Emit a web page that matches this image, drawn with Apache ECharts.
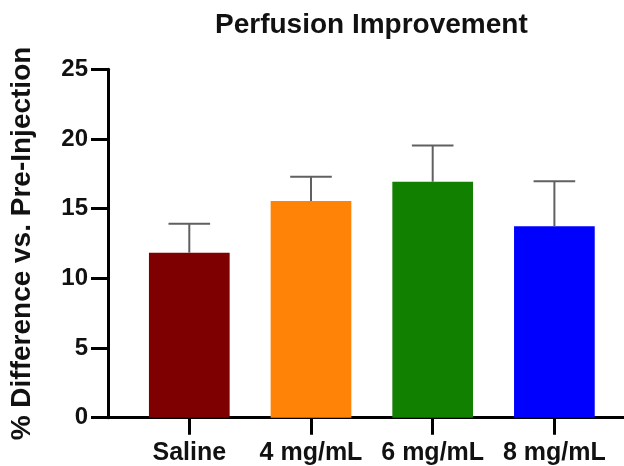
<!DOCTYPE html>
<html>
<head>
<meta charset="utf-8">
<script src="https://cdn.jsdelivr.net/npm/echarts@6/dist/echarts.min.js"></script>
<style>html,body{margin:0;padding:0;background:#fff;}#chart{width:624px;height:466px;}</style>
</head>
<body>
<div id="chart"></div>
<script>
const categories = ['Saline', '4 mg/mL', '6 mg/mL', '8 mg/mL'];
const means = [11.84, 15.55, 16.93, 13.73];
const errors = [2.08, 1.74, 2.61, 3.23];
const colors = ['#7f0000', '#ff8307', '#117f00', '#0000ff'];
const yTicks = [0, 5, 10, 15, 20, 25];

const positions = categories.map((c, i) => i);
const font = '"Liberation Sans", Arial, Helvetica, sans-serif';

const chart = echarts.init(document.getElementById('chart'));
chart.setOption({
  animation: false,
  backgroundColor: '#fff',
  title: {
    text: 'Perfusion Improvement',
    left: 215, top: 11, padding: 0,
    textStyle: { fontFamily: font, fontSize: 28, fontWeight: 'bold', color: '#111' }
  },
  grid: { left: 108, right: 0, top: 69.3, bottom: 48.3, containLabel: false },
  xAxis: {
    type: 'value',
    min: -0.668, max: 3.572,
    splitLine: { show: false },
    axisLine: { show: true, onZero: false, lineStyle: { color: '#000', width: 3 } },
    axisTick: { show: true, customValues: positions, length: 17, lineStyle: { color: '#000', width: 3 } },
    axisLabel: {
      customValues: positions,
      margin: 23,
      formatter: v => categories[Math.round(v)] || '',
      fontFamily: font, fontSize: 25, fontWeight: 'bold', color: '#111'
    }
  },
  yAxis: {
    type: 'value',
    min: 0, max: 25, interval: 5,
    name: '% Difference vs. Pre-Injection',
    nameLocation: 'middle',
    nameGap: 72,
    nameRotate: 90,
    nameTextStyle: { fontFamily: font, fontSize: 28, fontWeight: 'bold', color: '#111' },
    splitLine: { show: false },
    axisLine: { show: true, onZero: false, lineStyle: { color: '#000', width: 3 } },
    axisTick: { show: true, length: 17, lineStyle: { color: '#000', width: 3 } },
    axisLabel: {
      margin: 20,
      formatter: v => (yTicks.indexOf(v) >= 0 ? String(v) : ''),
      fontFamily: font, fontSize: 24, fontWeight: 'bold', color: '#111'
    }
  },
  series: [
    {
      type: 'bar',
      barWidth: 80.7,
      data: means.map((m, i) => ({ value: [positions[i], m], itemStyle: { color: colors[i] } })),
      z: 2
    },
    {
      type: 'custom',
      z: 3,
      data: means.map((m, i) => [positions[i], m, m + errors[i]]),
      renderItem: function (params, api) {
        const x = api.value(0);
        const p0 = api.coord([x, api.value(1)]);
        const p1 = api.coord([x, api.value(2)]);
        const half = 20.8;
        const style = { stroke: '#606060', lineWidth: 2 };
        return {
          type: 'group',
          children: [
            { type: 'line', shape: { x1: p0[0], y1: p0[1], x2: p1[0], y2: p1[1] }, style: style },
            { type: 'line', shape: { x1: p1[0] - half, y1: p1[1], x2: p1[0] + half, y2: p1[1] }, style: style }
          ]
        };
      }
    }
  ]
});
</script>
</body>
</html>
